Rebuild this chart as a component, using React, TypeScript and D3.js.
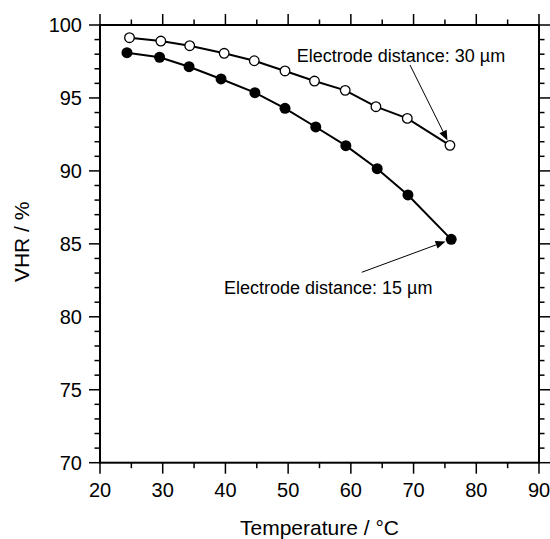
import React from "react";
import * as d3 from "d3";

const temps30 = [24.7, 29.7, 34.3, 39.8, 44.6, 49.5, 54.2, 59.1, 64.0, 69.0, 75.8];
const vhr30 = [99.13, 98.9, 98.58, 98.06, 97.55, 96.85, 96.16, 95.52, 94.4, 93.6, 91.75];
const temps15 = [24.3, 29.5, 34.2, 39.3, 44.7, 49.5, 54.4, 59.2, 64.2, 69.1, 76.0];
const vhr15 = [98.1, 97.79, 97.14, 96.3, 95.36, 94.29, 93.01, 91.73, 90.15, 88.35, 85.31];

const xMajor = [20, 30, 40, 50, 60, 70, 80, 90];
const xMinor = [25, 35, 45, 55, 65, 75, 85];
const yMajor = [70, 75, 80, 85, 90, 95, 100];
const yMinor = d3.range(70, 101, 1).filter((v) => v % 5 !== 0);

const label30 = "Electrode distance: 30 \u00b5m";
const label15 = "Electrode distance: 15 \u00b5m";
const xTitle = "Temperature / \u00b0C";
const yTitle = "VHR / %";

const W = 550, H = 539;
const L = 100, R = 539, T = 25, B = 462.7;
const FONT = "'Liberation Sans', Arial, Helvetica, sans-serif";

export default function App() {
  const x = d3.scaleLinear().domain([20, 90]).range([L, R]);
  const y = d3.scaleLinear().domain([70, 100]).range([B, T]);
  const line = d3.line<[number, number]>().x((d) => x(d[0])).y((d) => y(d[1]));
  const pts30: [number, number][] = temps30.map((t, i) => [t, vhr30[i]]);
  const pts15: [number, number][] = temps15.map((t, i) => [t, vhr15[i]]);

  const arrow = (sx: number, sy: number, ex: number, ey: number, gap: number) => {
    const x1 = x(sx), y1 = y(sy), x2 = x(ex), y2 = y(ey);
    const dx = x2 - x1, dy = y2 - y1;
    const len = Math.hypot(dx, dy);
    const ux = dx / len, uy = dy / len;
    const tx = x2 - ux * gap, ty = y2 - uy * gap;
    const hl = 10, hw = 4;
    const bx = tx - ux * hl, by = ty - uy * hl;
    const head = `M${tx},${ty}L${bx - uy * hw},${by + ux * hw}L${bx + uy * hw},${by - ux * hw}Z`;
    return (
      <g>
        <line x1={x1} y1={y1} x2={bx} y2={by} stroke="#000" strokeWidth={1} />
        <path d={head} fill="#000" />
      </g>
    );
  };

  return (
    <svg width={W} height={H} style={{ position: "absolute", left: 0, top: 0, background: "#fff" }} fontFamily={FONT}>
      <rect x={0} y={0} width={W} height={H} fill="#fff" />
      {/* ticks */}
      <g stroke="#000" strokeWidth={1.5}>
        {xMajor.map((v) => (
          <g key={"xm" + v}>
            <line x1={x(v)} x2={x(v)} y1={B} y2={B + 11} />
            <line x1={x(v)} x2={x(v)} y1={T} y2={T - 11} />
          </g>
        ))}
        {xMinor.map((v) => (
          <g key={"xn" + v}>
            <line x1={x(v)} x2={x(v)} y1={B} y2={B + 5.5} />
            <line x1={x(v)} x2={x(v)} y1={T} y2={T - 5.5} />
          </g>
        ))}
        {yMajor.map((v) => (
          <g key={"ym" + v}>
            <line x1={L} x2={L - 11} y1={y(v)} y2={y(v)} />
            <line x1={R} x2={R + 11} y1={y(v)} y2={y(v)} />
          </g>
        ))}
        {yMinor.map((v) => (
          <g key={"yn" + v}>
            <line x1={L} x2={L - 5.5} y1={y(v)} y2={y(v)} />
            <line x1={R} x2={R + 5.5} y1={y(v)} y2={y(v)} />
          </g>
        ))}
      </g>
      <rect x={L} y={T} width={R - L} height={B - T} fill="none" stroke="#000" strokeWidth={2} />
      {/* tick labels */}
      <g fontSize={20} fill="#000">
        {xMajor.map((v) => (
          <text key={"xl" + v} x={x(v)} y={B + 34} textAnchor="middle">{v}</text>
        ))}
        {yMajor.map((v) => (
          <text key={"yl" + v} x={L - 18} y={y(v) + 7} textAnchor="end">{v}</text>
        ))}
      </g>
      <text x={(L + R) / 2} y={535} textAnchor="middle" fontSize={21}>{xTitle}</text>
      <text transform={`translate(28.5,${(T + B) / 2 - 2}) rotate(-90)`} textAnchor="middle" fontSize={21}>{yTitle}</text>
      {/* series */}
      <path d={line(pts30) || ""} fill="none" stroke="#000" strokeWidth={2} />
      <path d={line(pts15) || ""} fill="none" stroke="#000" strokeWidth={2} />
      {pts30.map((p, i) => (
        <circle key={"o" + i} cx={x(p[0])} cy={y(p[1])} r={4.8} fill="#fff" stroke="#000" strokeWidth={1.3} />
      ))}
      {pts15.map((p, i) => (
        <circle key={"f" + i} cx={x(p[0])} cy={y(p[1])} r={5.5} fill="#000" />
      ))}
      {/* annotations */}
      <text x={x(51.37)} y={y(97.46)} fontSize={18}>{label30}</text>
      <text x={x(39.77)} y={y(81.56)} fontSize={18}>{label15}</text>
      {arrow(69.43, 97.26, temps30[temps30.length - 1], vhr30[vhr30.length - 1], 5.5)}
      {arrow(61.73, 83.05, temps15[temps15.length - 1], vhr15[vhr15.length - 1], 6)}
    </svg>
  );
}
